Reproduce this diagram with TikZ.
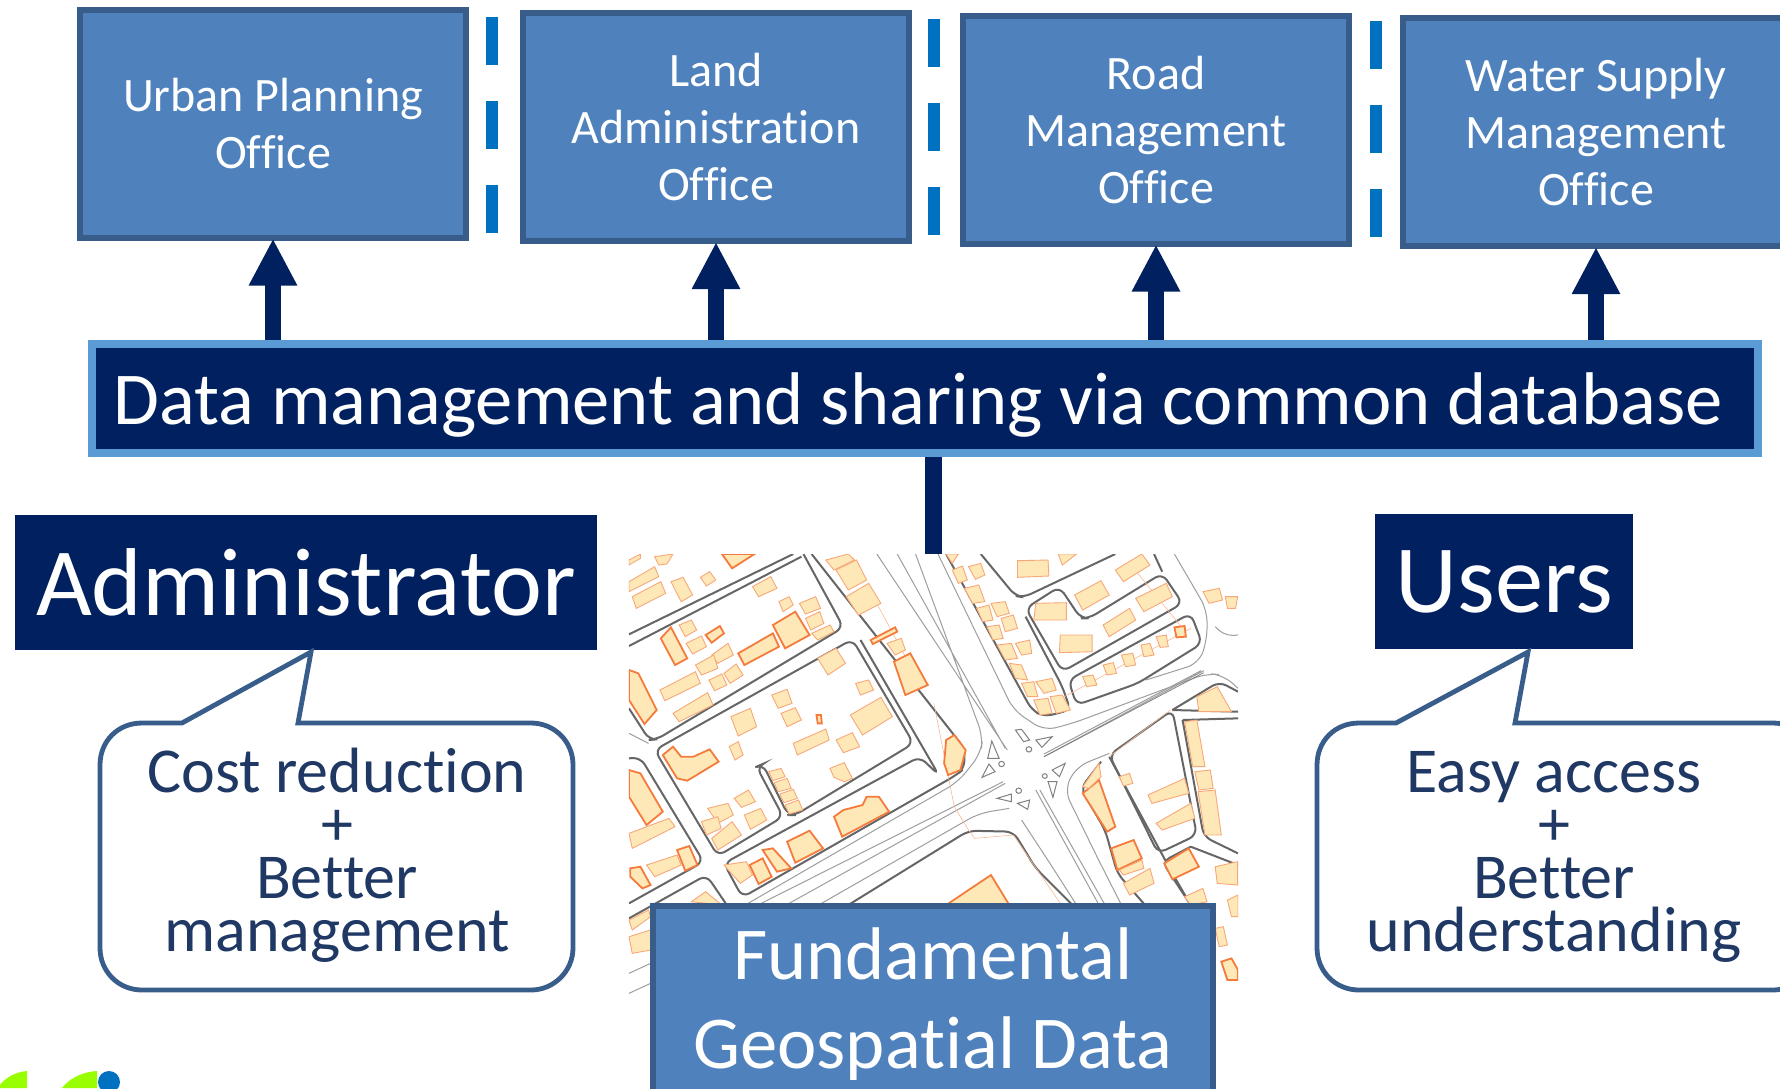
\documentclass[tikz,border=0pt]{standalone}
\usepackage{fontspec}
\setmainfont{Carlito}[Ligatures=NoCommon]
\usetikzlibrary{arrows.meta}
\definecolor{boxblue}{HTML}{4F81BD}
\definecolor{boxedge}{HTML}{385D8A}
\definecolor{navy}{HTML}{002060}
\definecolor{lightedge}{HTML}{5B9BD5}
\definecolor{dashblue}{HTML}{0070C0}
\definecolor{calltext}{HTML}{1F3864}
\definecolor{limeg}{HTML}{99FF00}
\definecolor{hfill}{HTML}{FFE8B8}
\definecolor{hedge}{HTML}{F7A878}
\definecolor{hedget}{HTML}{F47B3C}
\tikzset{
 officebox/.style={draw=boxedge,fill=boxblue,line width=3pt,minimum width=193pt,minimum height=114pt,inner sep=0pt,align=center,text=white,font=\fontsize{24}{28.5}\selectfont},
 fundbox/.style={draw=boxedge,fill=boxblue,line width=3pt,minimum width=280pt,minimum height=98pt,inner sep=0pt,align=center,text=white,font=\fontsize{37.3}{44.5}\selectfont},
 databox/.style={draw=lightedge,fill=navy,line width=4pt,minimum width=833pt,minimum height=54.5pt,inner sep=0pt,text=white,text height=31pt,text depth=5pt,font=\fontsize{37.3}{40}\selectfont},
 rolebox/.style={fill=navy,inner sep=0pt,text=white,font=\fontsize{48.2}{50}\selectfont},
 calltxt/.style={inner sep=0pt,align=center,text=calltext,font=\fontsize{32}{26.5}\selectfont},
 callout/.style={draw=boxedge,fill=white,line width=2.4pt},
 linkarrow/.style={draw=navy,line width=8pt,shorten >=-1pt,-{Triangle[length=23.5pt,width=22.5pt]}},
 linkbar/.style={draw=navy,line width=8.5pt},
 sharedash/.style={draw=dashblue,line width=6pt,dash pattern=on 24pt off 18pt},
 house/.style={fill=hfill,draw=hedge,line width=.45pt},
 houset/.style={fill=hfill,draw=hedget,line width=.9pt},
 rdark/.style={draw=black!60,line width=1pt,rounded corners=4pt},
 rgrey/.style={draw=black!38,line width=.5pt,rounded corners=6pt},
 island/.style={draw=black!50,line width=.5pt,fill=white},
 parcel/.style={draw=hedge!80,line width=.3pt},
}
\newcommand\hsh[1]{\path[house] plot coordinates {#1} -- cycle;}
\newcommand\hth[1]{\path[houset] plot coordinates {#1} -- cycle;}
\begin{document}
\begin{tikzpicture}[x=.5pt,y=-.5pt]
\useasboundingbox (0,0) rectangle (1780,1088);
\clip (0,0) rectangle (1780,1088);
\fill[white] (0,0) rectangle (1780,1088);
% ---- map
\node[minimum width=304.5pt,minimum height=221.5pt,inner sep=0pt] (map) at (933.5,775.5) {};
\begin{scope}[shift={(620,540)},x=.20383pt,y=-.16667pt]
\clip (22,42) rectangle (1516,1370);
% roads grey
\draw[rgrey] (630,42)--(950,630) (680,42)--(945,625) (725,42)--(890,590)--(885,640)--(830,725)--(300,1100);
\draw[rgrey] (780,42)--(965,510)--(1040,572)--(1110,550)--(1440,400)--(1480,405)--(1516,445);
\draw[rgrey] (1040,650)--(1432,392) (1040,642)--(1425,392);
\draw[rgrey] (945,730)--(400,1100) (940,725)--(330,1100);
\draw[rgrey] (955,805)--(880,820)--(480,1100);
\draw[rgrey] (1030,750)--(1190,1095) (1020,750)--(1175,1095);
\draw[rgrey] (985,840)--(1060,980)--(1120,1095);
\draw[rgrey] (1200,640)--(1120,680)--(1090,750)--(1170,950)--(1230,1095);
\draw[rgrey] (22,1300)--(75,1270) (22,1360)--(75,1330);
\draw[rgrey] (22,580)--(70,610);
\draw[rgrey] (1460,260)--(1490,295)--(1516,285);
\draw[rgrey] (1360,42)--(1440,210)--(1440,300)--(1420,370)--(1290,420);
% roads dark
\draw[rdark] (22,283)--(425,42) (22,318)--(445,50);
\draw[rdark] (450,42)--(548,262)--(90,598)--(72,600)--(22,505);
\draw[rdark] (85,630)--(570,298)--(720,610)--(430,825)--(412,825)--(350,672)--(335,680)--(400,830)--(240,948)--cycle;
\draw[rdark] (470,42)--(845,625)--(845,685)--(825,705)--(300,1072)--(255,970)--(735,650)--(782,705)--(590,300);
\draw[rdark] (22,655)--(50,652)--(205,965)--(22,1090);
\draw[rdark] (22,1135)--(212,1005)--(262,1095);
\draw[rdark] (560,1095)--(855,872)--(965,875)--(1020,985)--(1110,1095);
\draw[rdark] (885,42)--(970,168)--(990,172)--(1215,42);
\draw[rdark] (1078,140)--(995,205)--(1085,395)--(1380,190)--(1330,100)--(1150,235)--(1130,235)--cycle;
\draw[rdark] (1100,420)--(1400,220)--(1428,310)--(1270,430)--(1120,495)--cycle;
\draw[rdark] (1310,42)--(1330,95);
\draw[rdark] (800,42)--(1010,510)--(1040,530)--(1105,510)--(1085,440)--(995,230);
\draw[rdark] (1355,510)--(1200,645)--(1320,940)--(1415,885)--cycle;
\draw[rdark] (1355,510)--(1516,515) (1380,540)--(1516,535) (1380,540)--(1432,890)--(1516,940);
\draw[rdark] (1355,510)--(1470,425)--(1516,455);
\draw[rdark] (1180,665)--(1130,745)--(1190,870)--(1220,1000)--(1320,1140);
\draw[rdark] (1400,920)--(1330,965)--(1400,1095) (1400,920)--(1516,975);
\draw[rdark] (1200,650)--(1355,1000)--(1400,1095);
% parcels
\draw[parcel] (630,190)--(700,350) (770,490)--(820,800)--(855,870)--(870,895)--(965,885)--(1080,1090);
\draw[parcel] (1090,470)--(1400,265) (1200,650)--(1350,510) (1270,100)--(1380,265);
% islands
\path[island] (970,570)--(985,568)--(1005,600)--(990,605)--cycle;
\path[island] (1020,600)--(1060,590)--(1035,622)--cycle;
\path[island] (912,603)--(930,655)--(902,655)--cycle;
\path[island] (905,672)--(920,695)--(888,712)--cycle;
\path[island] (1060,690)--(1092,670)--(1078,710)--cycle;
\path[island] (1050,725)--(1072,725)--(1062,772)--cycle;
\path[island] (925,775)--(960,762)--(960,785)--cycle;
\path[island] (975,790)--(1005,780)--(1000,808)--cycle;
\path[island] (1003,628) circle[x radius=7,y radius=8];
\path[island] (936,672) circle[x radius=7,y radius=8];
\path[island] (1042,708) circle[x radius=6,y radius=7];
\path[island] (978,752) circle[x radius=7,y radius=8];
\path[draw=black!50,line width=.4pt] (1040,650)--(1432,398);
% houses
\hsh{(30,170)(100,125)(112,160)(40,205)}
\hsh{(22,125)(85,80)(95,110)(22,155)}
\hsh{(22,60)(50,42)(50,55)(22,75)}
\hsh{(125,125)(155,112)(178,165)(150,185)}
\hsh{(197,112)(220,95)(235,120)(212,138)}
\hth{(250,42)(330,42)(275,85)}
\hsh{(85,50)(130,42)(115,72)(95,75)}
\hsh{(325,140)(370,110)(385,145)(340,170)}
\hsh{(390,185)(415,170)(425,195)(400,215)}
\hsh{(440,190)(480,170)(492,205)(455,222)}
\hsh{(455,235)(490,215)(500,250)(468,270)}
\hsh{(470,280)(515,255)(525,275)(485,300)}
\hth{(375,255)(430,215)(465,285)(405,325)}
\hth{(290,340)(375,280)(390,320)(305,375)}
\hth{(100,295)(125,262)(165,355)(135,375)}
\hsh{(145,255)(175,240)(188,270)(160,290)}
\hth{(210,285)(245,258)(255,280)(225,308)}
\hsh{(162,310)(200,288)(212,320)(178,342)}
\hsh{(225,345)(265,310)(278,345)(240,370)}
\hsh{(185,375)(230,345)(240,385)(200,405)}
\hsh{(255,400)(285,372)(302,405)(270,430)}
\hsh{(218,420)(250,402)(262,435)(232,452)}
\hsh{(98,450)(185,395)(197,430)(110,482)}
\hsh{(130,520)(215,458)(228,495)(145,545)}
\hth{(22,390)(45,400)(90,510)(60,552)(22,480)}
\hsh{(485,355)(530,325)(553,370)(510,405)}
\hsh{(372,465)(410,448)(422,490)(388,505)}
\hsh{(578,430)(610,420)(622,450)(590,465)}
\hsh{(395,520)(430,503)(445,540)(410,560)}
\hsh{(272,530)(320,505)(335,560)(290,588)}
\hsh{(565,525)(640,472)(668,530)(595,585)}
\hth{(482,525)(493,525)(495,550)(485,550)}
\hsh{(425,610)(505,567)(513,600)(435,645)}
\hsh{(530,600)(570,578)(588,620)(548,638)}
\hsh{(268,620)(290,605)(302,645)(282,660)}
\hth{(105,645)(130,620)(150,650)(180,650)(220,628)(242,665)(165,722)(140,715)}
\hsh{(365,695)(395,685)(405,710)(375,722)}
\hsh{(378,728)(410,715)(420,745)(388,755)}
\hsh{(392,762)(425,748)(435,775)(402,788)}
\hsh{(405,795)(438,780)(448,810)(415,822)}
\hsh{(515,685)(550,668)(570,715)(550,725)(525,712)}
\hsh{(280,775)(315,750)(332,785)(298,802)}
\hsh{(215,805)(265,790)(278,825)(240,850)}
\hsh{(305,825)(345,805)(360,840)(320,868)}
\hsh{(200,845)(240,830)(248,865)(212,885)}
\hsh{(225,895)(275,845)(298,885)(240,930)}
\hth{(525,830)(548,810)(595,795)(605,770)(635,770)(660,815)(545,890)}
\hth{(410,905)(465,872)(498,925)(430,968)}
\hth{(350,930)(375,925)(420,985)(385,995)}
\hth{(318,975)(350,955)(372,1010)(340,1032)}
\hsh{(255,975)(310,965)(325,1005)(295,1030)}
\hth{(22,690)(50,700)(105,815)(65,855)(22,770)}
\hsh{(22,880)(120,835)(135,860)(30,925)}
\hth{(140,930)(170,918)(190,975)(160,992)}
\hsh{(65,975)(140,945)(150,975)(85,1010)}
\hth{(25,985)(50,980)(75,1035)(55,1045)(25,1010)}
\hsh{(175,1085)(210,1055)(250,1095)}
\hth{(800,1095)(910,1005)(955,1095)}
\hsh{(505,60)(560,42)(575,60)(525,90)}
\hsh{(530,90)(580,60)(605,120)(560,150)}
\hsh{(555,170)(610,130)(640,190)(585,225)}
\hth{(615,300)(675,262)(680,275)(620,312)}
\hsh{(655,310)(690,295)(700,330)(675,345)}
\hth{(672,365)(712,340)(755,435)(700,465)}
\hth{(800,600)(820,585)(848,630)(835,690)(805,705)(795,670)}
\hsh{(800,42)(830,42)(815,70)}
\hsh{(815,90)(840,78)(852,120)(830,130)}
\hsh{(855,80)(885,70)(895,105)(872,118)}
\hsh{(845,145)(880,135)(895,185)(865,190)}
\hsh{(875,205)(905,195)(915,240)(890,245)}
\hsh{(910,190)(945,185)(955,220)(925,230)}
\hsh{(935,235)(965,225)(975,265)(945,275)}
\hsh{(900,260)(930,255)(940,295)(915,300)}
\hsh{(925,315)(960,310)(975,355)(945,360)}
\hsh{(970,310)(1005,300)(1010,340)(985,345)}
\hsh{(955,370)(985,375)(1000,420)(970,415)}
\hsh{(985,430)(1015,425)(1025,470)(1000,470)}
\hsh{(1020,425)(1060,415)(1070,450)(1040,460)}
\hsh{(1015,480)(1050,475)(1060,520)(1030,525)}
\hsh{(1055,470)(1085,465)(1105,510)(1070,520)}
\hsh{(975,62)(1050,60)(1052,108)(975,112)}
\hsh{(1020,190)(1095,188)(1095,240)(1015,240)}
\hsh{(1080,285)(1158,285)(1158,335)(1078,338)}
\hsh{(1115,165)(1180,122)(1200,165)(1135,210)}
\hsh{(1215,90)(1280,42)(1300,75)(1235,125)}
\hsh{(1185,255)(1250,205)(1265,240)(1200,290)}
\hsh{(1265,175)(1340,130)(1355,170)(1285,215)}
\hsh{(1075,42)(1120,42)(1085,75)}
\hsh{(1135,410)(1160,405)(1170,435)(1145,440)}
\hsh{(1185,375)(1210,368)(1218,400)(1195,405)}
\hsh{(1230,345)(1258,340)(1265,375)(1240,380)}
\hsh{(1278,315)(1300,310)(1310,345)(1285,350)}
\hsh{(1315,290)(1340,285)(1345,320)(1325,322)}
\hth{(1360,262)(1385,258)(1388,290)(1365,292)}
\hsh{(1430,155)(1470,145)(1478,180)(1445,190)}
\hsh{(1485,170)(1515,170)(1510,205)(1490,205)}
\hsh{(1415,470)(1465,440)(1500,515)(1420,515)}
\hsh{(1385,545)(1415,540)(1435,680)(1405,680)}
\hsh{(1410,695)(1448,690)(1455,745)(1420,750)}
\hsh{(1418,755)(1460,750)(1475,885)(1435,885)}
\hsh{(1295,765)(1385,715)(1395,760)(1305,790)}
\hsh{(1315,850)(1400,790)(1410,835)(1330,870)}
\hsh{(1225,710)(1250,700)(1258,730)(1235,738)}
\hth{(1135,760)(1175,720)(1215,860)(1195,875)}
\hsh{(1135,740)(1175,670)(1180,710)(1150,745)}
\hth{(1205,925)(1260,900)(1280,955)(1220,990)}
\hsh{(1225,990)(1280,960)(1285,985)(1235,1005)}
\hth{(1335,970)(1395,925)(1420,980)(1355,1018)}
\hsh{(1235,1030)(1300,985)(1310,1030)(1250,1065)}
\hsh{(1385,1070)(1430,1045)(1440,1085)(1400,1095)}
\hsh{(1460,980)(1515,965)(1515,1035)(1465,1030)}
\hsh{(1490,1080)(1516,1065)(1516,1130)(1500,1130)}
\hth{(1475,1265)(1500,1255)(1516,1290)(1516,1320)(1490,1320)}
\hsh{(1460,1165)(1480,1160)(1490,1215)(1470,1220)}
\hsh{(22,1140)(70,1110)(75,1130)(30,1170)}
\hsh{(22,1190)(75,1170)(75,1230)(30,1240)}
\end{scope}
% ---- top boxes
\node[officebox] (o1) at (273,123.5) {Urban Planning\\Office};
\node[officebox] (o2) at (716,127) {Land\\Administration\\Office};
\node[officebox] (o3) at (1156,129.5) {Road\\Management\\Office};
\node[officebox] (o4) at (1596,132) {Water Supply\\Management\\Office};
% ---- dashes
\coordinate (d1a) at (492,17); \coordinate (d1b) at (492,233);
\coordinate (d2a) at (934,19); \coordinate (d2b) at (934,235);
\coordinate (d3a) at (1376,20.5); \coordinate (d3b) at (1376,236.5);
\draw[sharedash] (d1a)--(d1b);
\draw[sharedash] (d2a)--(d2b);
\draw[sharedash] (d3a)--(d3b);
% ---- data bar
\node[databox] (data) at (925,398) {Data management and sharing via common database\hspace*{6.8pt}};
\draw[linkarrow] (o1.south |- data.north)--(o1.south);
\draw[linkarrow] (o2.south |- data.north)--(o2.south);
\draw[linkarrow] (o3.south |- data.north)--(o3.south);
\draw[linkarrow] (o4.south |- data.north)--(o4.south);
\draw[linkbar] (map.north |- data.south)--(map.north);
% ---- roles
\node[rolebox,minimum width=291pt,minimum height=67.5pt] (admin) at (306,582.5) {Administrator};
\node[rolebox,minimum width=129pt,minimum height=67.5pt] (users) at (1504,581.5) {Users};
% ---- callouts
\draw[callout] (182,723) -- (311,652) -- (298,723) -- (531,723) .. controls (554,723) and (573,741) .. (573,765) -- (573,948) .. controls (573,971) and (554,990) .. (531,990) -- (142,990) .. controls (118,990) and (100,971) .. (100,948) -- (100,765) .. controls (100,741) and (118,723) .. (142,723) -- cycle;
\draw[callout] (1396,723) -- (1528,652) -- (1515,723) -- (1773,723) .. controls (1796,723) and (1815,741) .. (1815,765) -- (1815,948) .. controls (1815,971) and (1796,990) .. (1773,990) -- (1359,990) .. controls (1335,990) and (1317,971) .. (1317,948) -- (1317,765) .. controls (1317,741) and (1335,723) .. (1359,723) -- cycle;
\node[calltxt] (c1) at (337,855) {Cost reduction\\+\\Better\\management};
\node[calltxt] (c2) at (1554,857) {Easy access\\+\\Better\\understanding};
% ---- fundamental
\node[fundbox] (fund) at (933,1004) {Fundamental\\Geospatial Data};
% ---- logo fragment
\fill[limeg] (27,1071) .. controls (15,1072) and (5,1078) .. (0,1085) -- (0,1088) -- (27,1088) -- cycle;
\fill[limeg] (97,1071) .. controls (82,1072) and (70,1078) .. (62,1088) -- (97,1088) -- cycle;
\fill[dashblue] (109,1082) circle[radius=11];
\end{tikzpicture}
\end{document}
